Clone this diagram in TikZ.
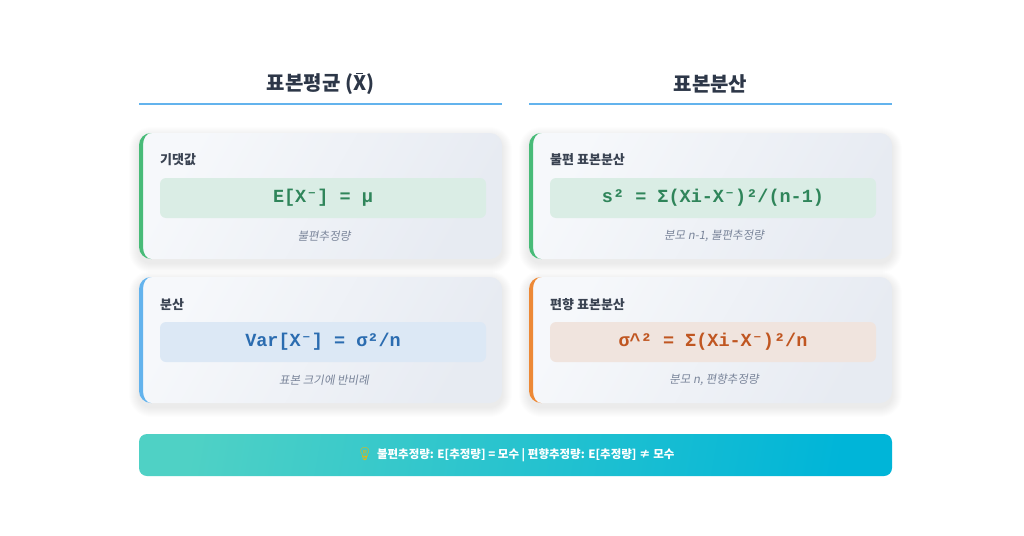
\documentclass[tikz,border=0pt]{standalone}
\usepackage{fontspec}
\setmainfont{Noto Sans CJK KR}
\newfontfamily\kr{Noto Sans CJK KR}
\newfontfamily\krit{Noto Sans CJK KR}[FakeSlant=0.18]
\newfontfamily\fmono{Liberation Mono}
\newfontfamily\dvm{DejaVu Sans Mono}
\newfontfamily\emo{Noto Emoji}
\definecolor{hdr}{HTML}{2D3748}
\definecolor{hline}{HTML}{63B3ED}
\definecolor{ttl}{HTML}{3A4352}
\definecolor{cap}{HTML}{7A859A}
\definecolor{gB}{HTML}{48BB78}
\definecolor{gT}{HTML}{2F855A}
\definecolor{gF}{HTML}{DAEDE5}
\definecolor{bB}{HTML}{63B3ED}
\definecolor{bT}{HTML}{2B6CB0}
\definecolor{bF}{HTML}{DCE8F5}
\definecolor{oB}{HTML}{ED8936}
\definecolor{oT}{HTML}{C05621}
\definecolor{oF}{HTML}{F0E4DE}
\definecolor{cardA}{HTML}{F6F8FB}
\definecolor{cardB}{HTML}{E7EBF2}
\definecolor{banA}{HTML}{4FD1C5}
\definecolor{banB}{HTML}{00B5D8}
\newcommand{\sm}{{\dvm\bfseries ⁻}}
\newcommand{\xbar}{\ooalign{X\cr\hidewidth\raisebox{0.8em}{\rule{0.32em}{0.07em}}\hidewidth\cr}}
\tikzset{
  hdrtext/.style={font=\fontsize{20}{24}\selectfont\bfseries, text=hdr, inner sep=0},
  card/.style={rectangle, rounded corners=12pt, minimum width=363pt, minimum height=126pt,
    left color=cardA, right color=cardB, shading angle=60},
  cardtitle/.style={anchor=west, font=\fontsize{13}{15}\selectfont\bfseries, text=ttl, inner sep=0},
  fbox/.style={rectangle, rounded corners=6pt, minimum width=326pt, minimum height=40pt, inner sep=0,
    font=\fontsize{18.5}{20}\selectfont\fmono\bfseries},
  captext/.style={font=\fontsize{11.5}{13}\selectfont\krit, text=cap, inner sep=0},
  softshadow/.style={fill=black, fill opacity=0.007},
}
% soft shadow: #1 left, #2 top, #3 right, #4 bottom
\newcommand{\cardshadow}[4]{%
  \foreach \e in {1,2,...,10}{%
    \fill[softshadow, rounded corners=12pt+\e pt] (#1-\e,#2-\e+4) rectangle (#3+\e,#4+\e+4);}}
% #1 left x, #2 top y, #3 bottom y, #4 colour
\newcommand{\leftbar}[4]{%
  \begin{scope}
    \clip (#1-1,#2-1) rectangle (#1+12.5,#3+1);
    \fill[#4, even odd rule]
      (#1+12,#2) arc[start angle=270, end angle=180, radius=12] -- (#1,#3-12)
        arc[start angle=180, end angle=90, radius=12] -- (#1+12,#3) -- (#1+13,#3) -- (#1+13,#2) -- cycle
      (#1+12,#2) arc[start angle=270, end angle=180, x radius=8, y radius=12] -- (#1+4,#3-12)
        arc[start angle=180, end angle=90, x radius=8, y radius=12] -- (#1+12,#3) -- (#1+13,#3) -- (#1+13,#2) -- cycle;
  \end{scope}}
\begin{document}
\begin{tikzpicture}[x=1pt,y=-1pt]
\useasboundingbox (0,0) rectangle (1024,535);
\fill[white] (0,0) rectangle (1024,535);

% headers
\node[hdrtext] (h1) at (320.5,84) {표본평균 (\xbar)};
\node[hdrtext] (h2) at (710.5,84) {표본분산};
\coordinate (l1a) at (139,104); \coordinate (l1b) at (502,104);
\coordinate (l2a) at (529,104); \coordinate (l2b) at (892,104);
\draw[hline, line width=2.6pt] (l1a) -- (l1b);
\draw[hline, line width=2.6pt] (l2a) -- (l2b);

% shadows
\cardshadow{139}{133}{502}{259}
\cardshadow{139}{277}{502}{403}
\cardshadow{529}{133}{892}{259}
\cardshadow{529}{277}{892}{403}

% cards
\node[card] (c1) at (320.5,196) {};
\node[card] (c2) at (320.5,340) {};
\node[card] (c3) at (710.5,196) {};
\node[card] (c4) at (710.5,340) {};
\leftbar{139}{133}{259}{gB}
\leftbar{139}{277}{403}{bB}
\leftbar{529}{133}{259}{gB}
\leftbar{529}{277}{403}{oB}

% card 1
\node[cardtitle] (t1) at (160,160) {기댓값};
\node[fbox, fill=gF, text=gT] (f1) at (323,198) {E[X\sm] = μ};
\node[captext] (k1) at (324,236) {불편추정량};

% card 2
\node[cardtitle] (t2) at (160,305) {분산};
\node[fbox, fill=bF, text=bT] (f2) at (323,342) {Var[X\sm] = σ²/n};
\node[captext] (k2) at (324,380) {표본 크기에 반비례};

% card 3
\node[cardtitle] (t3) at (550,160) {불편 표본분산};
\node[fbox, fill=gF, text=gT] (f3) at (713,198) {s² = Σ(Xi-X\sm)²/(n-1)};
\node[captext] (k3) at (714,236) {분모 n-1, 불편추정량};

% card 4
\node[cardtitle] (t4) at (550,305) {편향 표본분산};
\node[fbox, fill=oF, text=oT] (f4) at (713,342) {σ\^{}² = Σ(Xi-X\sm)²/n};
\node[captext] (k4) at (714,380) {분모 n, 편향추정량};

% banner
\node[rectangle, rounded corners=8pt, minimum width=753pt, minimum height=42pt,
  left color=banA, right color=banB, shading angle=80,
  font=\fontsize{11.5}{13}\selectfont\bfseries, text=white] (bn) at (515.5,455)
  {{\emo\fontsize{13}{14}\selectfont\color[HTML]{F4B400}💡}\hspace{4pt}불편추정량: E[추정량] = 모수 | 편향추정량: E[추정량] ≠ 모수};
\end{tikzpicture}
\end{document}
